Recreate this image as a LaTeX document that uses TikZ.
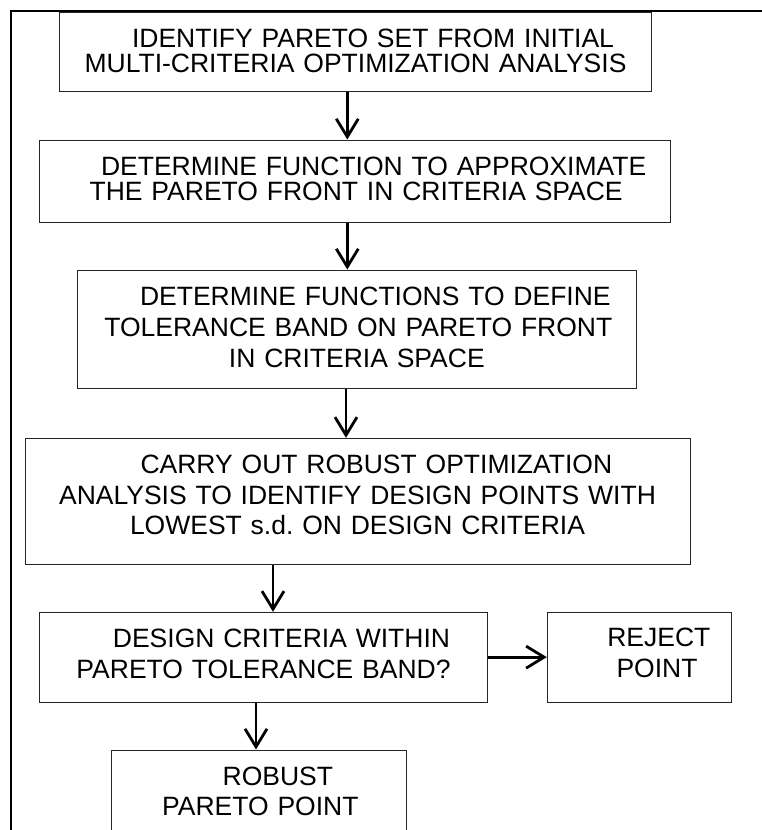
\documentclass[tikz,border=0pt]{standalone}
\usepackage{fontspec}
\setmainfont{Liberation Sans}
\usetikzlibrary{arrows.meta}
\frenchspacing
\begin{document}
\begin{tikzpicture}[x=1pt,y=-1pt,
  box/.style={draw=black!85, line width=1pt, rectangle, inner sep=0pt, align=center, text height=0pt},
  big/.style={font=\fontsize{26.5}{30.8}\selectfont\frenchspacing},
  tight/.style={font=\fontsize{26.5}{25.6}\selectfont\frenchspacing},
  arr/.style={draw=black, line width=2.8pt, -{Straight Barb[length=18pt,width=22pt,line width=2.8pt]}},
  frameline/.style={draw=black, line width=2pt}]
\clip (0,0) rectangle (762,830);
\fill[white] (0,0) rectangle (762,830);
\draw[frameline] (770,11) -- (11,11) -- (11,840);

\node[box, tight, minimum width=592.4pt, text width=592.4pt, minimum height=79pt, text depth=9.8pt] (b1) at (355.5,52.2)
  {\hspace*{35pt}IDENTIFY PARETO SET FROM INITIAL\\MULTI-CRITERIA OPTIMIZATION ANALYSIS};
\node[box, tight, minimum width=630.7pt, text width=630.7pt, minimum height=82pt, text depth=12pt] (b2) at (354.65,181)
  {\hspace*{38pt}DETERMINE FUNCTION TO APPROXIMATE\\\hspace*{3pt}THE PARETO FRONT IN CRITERIA SPACE};
\node[box, big, minimum width=558.3pt, text width=558.3pt, minimum height=118pt, text depth=47pt] (b3) at (356.85,329)
  {\hspace*{37pt}DETERMINE FUNCTIONS TO DEFINE\\\hspace*{3pt}TOLERANCE BAND ON PARETO FRONT\\IN CRITERIA SPACE};
\node[box, big, minimum width=665pt, text width=665pt, minimum height=125.7pt, text depth=55.7pt] (b4) at (357.5,501.15)
  {\hspace*{37.7pt}CARRY OUT ROBUST OPTIMIZATION\\ANALYSIS TO IDENTIFY DESIGN POINTS WITH\\LOWEST s.d. ON DESIGN CRITERIA};
\node[box, big, minimum width=448.4pt, text width=448.4pt, minimum height=89.7pt, text depth=19.3pt] (b5) at (263.5,657.15)
  {\hspace*{36pt}DESIGN CRITERIA WITHIN\\PARETO TOLERANCE BAND?};
\node[box, big, minimum width=184.4pt, text width=184.4pt, minimum height=89.7pt, text depth=20.5pt] (b6) at (639.5,657.15)
  {\hspace*{38.7pt}REJECT\\\hspace*{35pt}POINT};
\node[box, big, minimum width=294.3pt, text width=294.3pt, minimum height=110pt, text depth=40pt] (b7) at (258.85,805)
  {\hspace*{38pt}ROBUST\\\hspace*{3pt}PARETO POINT};

\draw[arr] ([xshift=-8.2pt]b1.south) -- ([xshift=-8.2pt]b1.south |- b2.north);
\draw[arr] ([xshift=-7.35pt]b2.south) -- ([xshift=-7.35pt]b2.south |- b3.north);
\draw[arr] ([xshift=-10.85pt]b3.south) -- ([xshift=-10.85pt]b3.south |- b4.north);
\draw[arr] ([xshift=-84.5pt]b4.south) -- ([xshift=-84.5pt]b4.south |- b5.north);
\draw[arr] ([xshift=-7.5pt]b5.south) -- ([xshift=-7.5pt]b5.south |- b7.north);
\draw[arr] (b5.east) -- (b6.west);
\end{tikzpicture}
\end{document}
